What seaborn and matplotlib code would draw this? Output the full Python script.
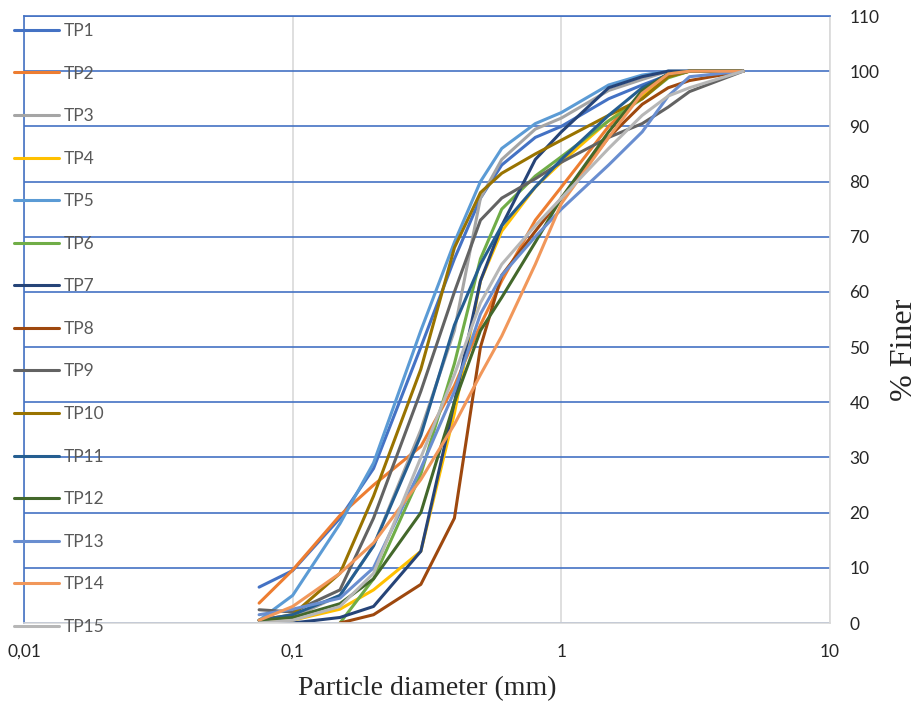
import numpy as np
import pandas as pd
import matplotlib
matplotlib.use("Agg")
import matplotlib.pyplot as plt
import seaborn as sns
from matplotlib.ticker import NullLocator

nan = np.nan

# sieve sizes (mm)
diameters = [0.075, 0.1, 0.15, 0.2, 0.3, 0.4, 0.5, 0.6, 0.8, 1.0, 1.5, 2.0, 2.5, 3.0, 4.75]

# % finer per test pit
tp1 = [6.5, 9.5, 19, 28, 50, 66, 77, 83, 88, 90, 95, 97.5, 99.3, 100, 100]
tp2 = [3.6, 9.6, 19.5, 25, 32, 43, 54, 62, 73, 79, 90, 96, 99.5, 100, 100]
tp3 = [0, 1, 5, 14, 35, 53, 77, 84, 89.5, 91.5, 96.5, 98.5, 100, 100, 100]
tp4 = [0, 0.5, 2.5, 6, 13, 38, 62, 71, 79, 83.5, 91, 95.5, 99, 100, 100]
tp5 = [0.5, 5, 18, 29, 53, 69, 80, 86, 90.5, 92.5, 97.5, 99.3, 100, 100, 100]
tp6 = [nan, nan, 0, 8, 27, 47, 66, 75, 81, 84.5, 91, 95, 98.8, 100, 100]
tp7 = [0, 0, 1, 3, 13, 40, 62, 72, 84, 89, 97, 99, 100, 100, 100]
tp8 = [nan, nan, 0, 1.5, 7, 19, 50, 63, 71, 77, 88, 94, 97, 98.3, 100]
tp9 = [2.4, 2, 6, 19, 42, 60, 73, 77, 80.5, 83.5, 88, 90.5, 93.5, 96.3, 100]
tp10 = [0.5, 1.5, 9, 23, 46, 68, 78, 81.5, 85, 87.5, 92, 95, 99, 100, 100]
tp11 = [0.5, 1.5, 5, 14, 34, 54, 65, 72, 79, 84, 92, 97, 99.5, 100, 100]
tp12 = [0.5, 1, 3.5, 8, 20, 40, 53, 59, 69, 77, 89, 96.5, 99.5, 100, 100]
tp13 = [1.5, 2.5, 4.5, 10, 28, 42, 56, 63, 70, 75, 83, 89, 95.5, 99, 100]
tp14 = [0.5, 3, 9, 14.5, 26, 36, 45, 52, 65, 76, 88, 96, 99.5, 100, 100]
tp15 = [0, 0.5, 3, 9, 30, 45, 58, 65, 72, 77, 86, 92, 95.5, 97, 100]

samples = ["TP1", "TP2", "TP3", "TP4", "TP5", "TP6", "TP7", "TP8",
           "TP9", "TP10", "TP11", "TP12", "TP13", "TP14", "TP15"]
series = [tp1, tp2, tp3, tp4, tp5, tp6, tp7, tp8,
          tp9, tp10, tp11, tp12, tp13, tp14, tp15]
colors = ["#4472C4", "#ED7D31", "#A5A5A5", "#FFC000", "#5B9BD5",
          "#70AD47", "#264478", "#9E480E", "#636363", "#997300",
          "#255E91", "#43682B", "#698ED0", "#F1975A", "#B7B7B7"]

# long format for seaborn
rows = []
for name, vals in zip(samples, series):
    for d, v in zip(diameters, vals):
        if not np.isnan(v):
            rows.append({"d": d, "pct": v, "sample": name})
df = pd.DataFrame(rows)

sns.set_style("white")
plt.rcParams["font.family"] = ["Lato", "DejaVu Sans"]

fig = plt.figure(figsize=(9.19, 7.01), dpi=100)
ax = fig.add_axes([24 / 919, 1 - 623 / 701, (830 - 24) / 919, (623 - 16) / 701])

sns.lineplot(data=df, x="d", y="pct", hue="sample", hue_order=samples,
             palette=colors, linewidth=2.2, estimator=None, errorbar=None,
             sort=True, ax=ax)

ax.set_xscale("log")
ax.set_xlim(0.01, 10)
ax.set_ylim(0, 110)
ax.set_xticks([0.01, 0.1, 1, 10])
ax.set_xticklabels(["0,01", "0,1", "1", "10"])
ax.xaxis.set_minor_locator(NullLocator())
ax.set_yticks(range(0, 111, 10))
ax.yaxis.tick_right()

# grid + frame like the Excel chart
ax.set_axisbelow(True)
ax.grid(axis="y", color="#4472C4", linewidth=1.2)
ax.grid(axis="x", color="#D9D9D9", linewidth=1.2)
ax.spines["left"].set_color("#4472C4")
ax.spines["top"].set_color("#4472C4")
ax.spines["right"].set_color("#D9D9D9")
ax.spines["bottom"].set_color("#D9D9D9")
for s in ax.spines.values():
    s.set_linewidth(1.2)

ax.tick_params(axis="both", length=0, labelsize=12.5, labelcolor="#262626")
ax.tick_params(axis="y", pad=14)
ax.tick_params(axis="x", pad=15)

ax.set_xlabel("Particle diameter (mm)", family="Liberation Serif", fontsize=20, labelpad=12)
ax.set_ylabel("")
fig.text(905 / 919, 1 - 350 / 701, "% Finer", family="Liberation Serif", fontsize=23,
         rotation=90, ha="center", va="center")

handles, labels = ax.get_legend_handles_labels()
leg = ax.legend(handles, labels, loc="upper left",
                bbox_to_anchor=(14 / 919, 1 - 23 / 701), bbox_transform=fig.transFigure,
                frameon=False, fontsize=12.5, handlelength=2.6, handletextpad=0.25,
                labelspacing=1.53, borderpad=0, borderaxespad=0)
for t in leg.get_texts():
    t.set_color("#595959")

fig.savefig("out.png", dpi=100)
